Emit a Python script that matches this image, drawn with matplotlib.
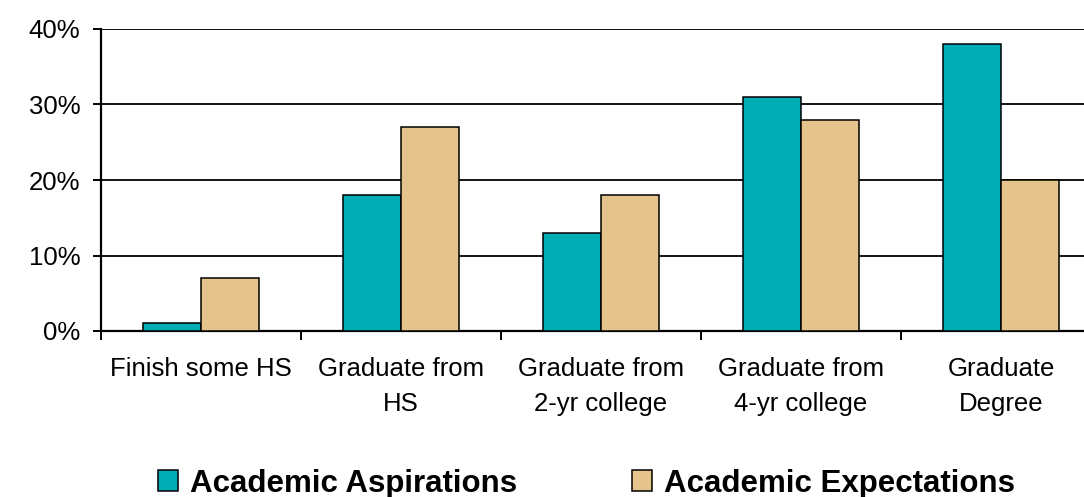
import matplotlib.pyplot as plt
import numpy as np

plt.rcParams['font.family'] = ['Liberation Sans', 'DejaVu Sans']

categories = ["Finish some HS", "Graduate from\nHS", "Graduate from\n2-yr college",
              "Graduate from\n4-yr college", "Graduate\nDegree"]
aspirations = [1, 18, 13, 31, 38]
expectations = [7, 27, 18, 28, 20]
series_names = ["Academic Aspirations", "Academic Expectations"]
colors = ["#00ADB4", "#E5C38C"]

fig = plt.figure(figsize=(10.84, 4.97), dpi=100)
# plot area runs past the right edge of the image, like the original
ax = fig.add_axes([101 / 1084, 166 / 497, 1000 / 1084, 302 / 497])

x = np.arange(len(categories))
w = 0.29
ax.bar(x - w / 2, aspirations, w, color=colors[0], edgecolor="black", linewidth=1.1,
       label=series_names[0], zorder=3)
ax.bar(x + w / 2, expectations, w, color=colors[1], edgecolor="black", linewidth=1.1,
       label=series_names[1], zorder=3)

ax.set_xlim(-0.5, len(categories) - 0.5)
ax.set_ylim(0, 40)
ax.set_yticks([0, 10, 20, 30, 40])
ax.set_yticklabels([f"{v}%" for v in [0, 10, 20, 30, 40]], fontsize=18.5)
ax.yaxis.grid(True, color="black", linewidth=1.3, zorder=0)

ax.set_xticks(np.arange(len(categories) + 1) - 0.5, minor=False)
ax.set_xticklabels([])
ax.set_xticks(x, minor=True)
ax.set_xticklabels(categories, minor=True, fontsize=18.5, linespacing=1.55)
ax.tick_params(axis="x", which="minor", length=0, pad=19)
ax.tick_params(axis="x", which="major", length=6.5, width=1.4, direction="out")
ax.tick_params(axis="y", length=6, width=1.4, direction="out", pad=9)

for s in ["top", "right"]:
    ax.spines[s].set_visible(False)
for s in ["left", "bottom"]:
    ax.spines[s].set_linewidth(1.6)

fig.legend(loc="center", bbox_to_anchor=(0.541, 0.027), ncol=2, frameon=False,
           prop={"weight": "bold", "size": 22.5}, handlelength=0.62, handleheight=0.62,
           handletextpad=0.38, columnspacing=3.7)

fig.savefig("out.png", dpi=100)
